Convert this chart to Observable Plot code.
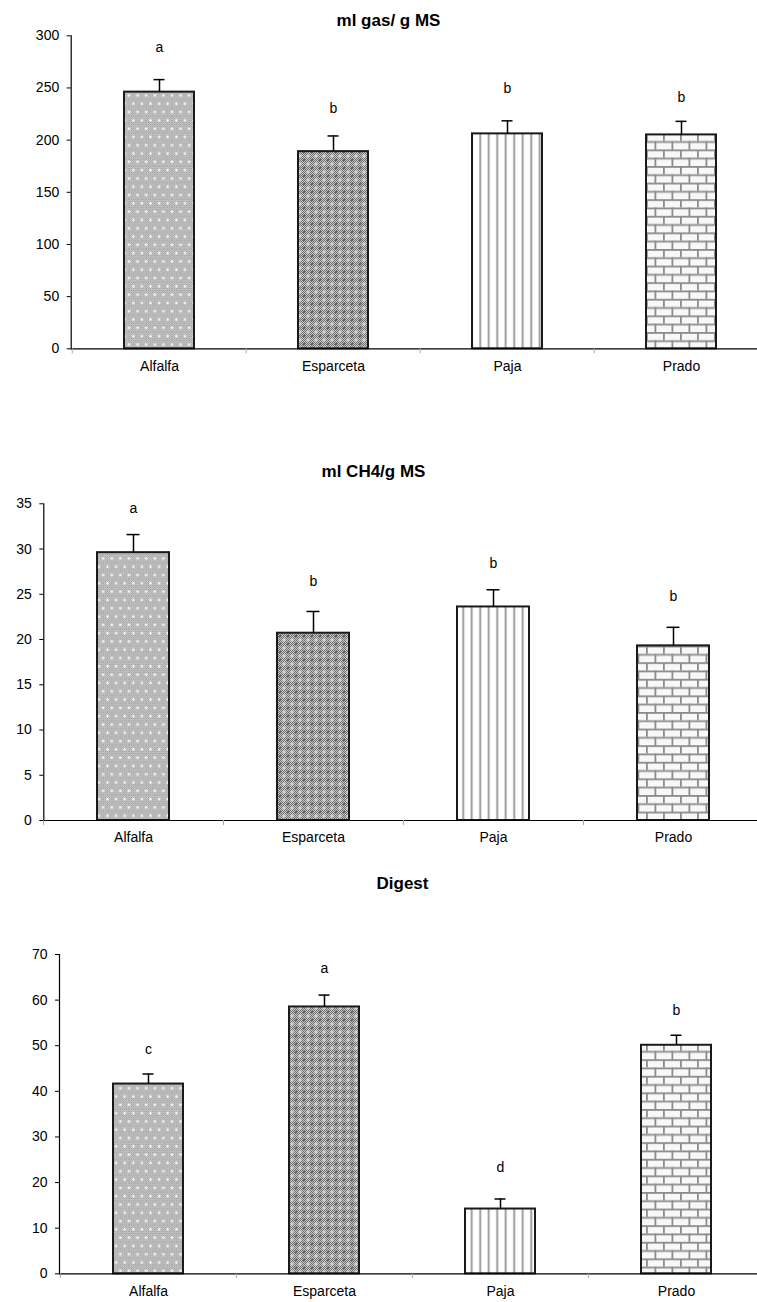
<!DOCTYPE html>
<html><head><meta charset="utf-8">
<script src="https://cdn.jsdelivr.net/npm/d3@7"></script>
<script src="https://cdn.jsdelivr.net/npm/@observablehq/plot@0.6"></script>
<style>
html,body{margin:0;padding:0;background:#fff;}
svg{display:block;}
#charts{width:757px;}
</style></head><body>
<svg width="0" height="0" style="position:absolute">
<defs>
  <pattern id="chkA" width="2" height="2" patternUnits="userSpaceOnUse">
    <rect width="2" height="2" fill="#e8e8e8"/>
    <rect width="1" height="1" fill="#8a8a8a"/>
    <rect x="1" y="1" width="1" height="1" fill="#8a8a8a"/>
  </pattern>
  <pattern id="chkE" width="2" height="2" patternUnits="userSpaceOnUse">
    <rect width="2" height="2" fill="#c8c8c8"/>
    <rect width="1" height="1" fill="#6e6e6e"/>
    <rect x="1" y="1" width="1" height="1" fill="#6e6e6e"/>
  </pattern>
  <pattern id="pat-Alfalfa" width="8.6" height="16.6" patternUnits="userSpaceOnUse">
    <rect width="8.6" height="16.6" fill="url(#chkA)"/>
    <rect x="3.8" y="2.65" width="1" height="3" fill="#fff"/>
    <rect x="2.8" y="3.65" width="3" height="1" fill="#fff"/>
    <rect x="-0.5" y="10.95" width="1" height="3" fill="#fff"/>
    <rect x="-1.5" y="11.95" width="3" height="1" fill="#fff"/>
    <rect x="8.1" y="10.95" width="1" height="3" fill="#fff"/>
    <rect x="7.1" y="11.95" width="3" height="1" fill="#fff"/>
  </pattern>
  <pattern id="pat-Esparceta" width="8" height="8" patternUnits="userSpaceOnUse">
    <rect width="8" height="8" fill="url(#chkE)"/>
    <rect x="3.5" y="2" width="1" height="4" fill="#e2e2e2"/>
    <rect x="2" y="3.5" width="4" height="1" fill="#e2e2e2"/>
    <path d="M0,-1.6L1.6,0L0,1.6L-1.6,0Z M8,-1.6L9.6,0L8,1.6L6.4,0Z M0,6.4L1.6,8L0,9.6L-1.6,8Z M8,6.4L9.6,8L8,9.6L6.4,8Z" fill="#5a5a5a"/>
  </pattern>
  <pattern id="pat-Paja" width="8.5" height="10" patternUnits="userSpaceOnUse">
    <rect width="8.5" height="10" fill="#fff"/>
    <rect x="3.3" width="1.8" height="10" fill="#939393"/>
  </pattern>
  <pattern id="pat-Prado" width="17" height="16.6" patternUnits="userSpaceOnUse">
    <rect width="17" height="16.6" fill="#f8f8f8"/>
    <rect y="0" width="17" height="1.8" fill="#8c8c8c"/>
    <rect y="8.3" width="17" height="1.8" fill="#8c8c8c"/>
    <rect x="0" y="0" width="1.8" height="8.3" fill="#8c8c8c"/>
    <rect x="8.5" y="8.3" width="1.8" height="8.3" fill="#8c8c8c"/>
  </pattern>
</defs>
</svg>
<div id="charts"></div>
<script>
// ---- data ----
const categories = ["Alfalfa", "Esparceta", "Paja", "Prado"];

const gasTitle = "ml gas/ g MS";
const gasValues = [246, 189, 206, 205];
const gasErrors = [12, 15, 12.5, 13];
const gasLetters = ["a", "b", "b", "b"];
const gasLetterY = [288.5, 230.5, 249.5, 241];
const gasTicks = [0, 50, 100, 150, 200, 250, 300];

const ch4Title = "ml CH4/g MS";
const ch4Values = [29.6, 20.7, 23.6, 19.3];
const ch4Errors = [2.0, 2.4, 1.9, 2.05];
const ch4Letters = ["a", "b", "b", "b"];
const ch4LetterY = [34.5, 26.4, 28.4, 24.8];
const ch4Ticks = [0, 5, 10, 15, 20, 25, 30, 35];

const digTitle = "Digest";
const digValues = [41.6, 58.5, 14.2, 50.1];
const digErrors = [2.2, 2.6, 2.2, 2.2];
const digLetters = ["c", "a", "d", "b"];
const digLetterY = [49.1, 67, 23.4, 57.7];
const digTicks = [0, 10, 20, 30, 40, 50, 60, 70];

// ---- layout ----
const layouts = [
  {height: 380, marginTop: 35.3, marginBottom: 31.7, marginLeft: 70.7, rangeRight: 768.7, titleX: 388, titleY: 20.5},
  {height: 480, marginTop: 123.3, marginBottom: 40, marginLeft: 43.3, rangeRight: 763.3, titleX: 373, titleY: 91},
  {height: 442, marginTop: 94, marginBottom: 28.7, marginLeft: 59, rangeRight: 764.5, titleX: 402, titleY: 23}
];

function makeChart(title, values, errors, letters, letterY, ticks, L) {
  const data = categories.map((c, i) => ({
    cat: c, v: values[i], e: errors[i], letter: letters[i], ly: letterY[i], pat: `url(#pat-${c})`
  }));
  const step = (L.rangeRight - L.marginLeft) / categories.length;
  return Plot.plot({
    width: 757,
    height: L.height,
    marginTop: L.marginTop,
    marginBottom: L.marginBottom,
    marginLeft: L.marginLeft,
    marginRight: 0,
    style: {fontFamily: "'Liberation Sans', Arial, sans-serif", fontSize: "14px", color: "#000", background: "#fff"},
    x: {type: "band", domain: categories, range: [L.marginLeft, L.rangeRight], paddingInner: 0.6, paddingOuter: 0.3},
    y: {domain: [0, ticks[ticks.length - 1]]},
    color: {type: "identity"},
    marks: [
      Plot.barY(data, {x: "cat", y: "v", fill: "pat", stroke: "#1a1a1a", strokeWidth: 2}),
      Plot.ruleX(data, {x: "cat", y1: "v", y2: d => d.v + d.e, stroke: "#000", strokeWidth: 1.5}),
      Plot.tickY(data, {x: "cat", y: d => d.v + d.e, insetLeft: 29.5, insetRight: 29.5, stroke: "#000", strokeWidth: 1.5}),
      Plot.text(data, {x: "cat", y: "ly", text: "letter", fontSize: 14}),
      Plot.ruleY([0], {stroke: "#000", strokeWidth: 1.2}),
      Plot.frame({anchor: "left", stroke: "#000", strokeWidth: 1.2}),
      Plot.ruleX(categories, {x: d => d, y1: 0, y2: 0, insetBottom: -5, dx: -step / 2, stroke: "#aaa"}),
      Plot.axisY({ticks: ticks, tickSize: 4, tickPadding: 8, label: null, fontSize: 14}),
      Plot.axisX({tickSize: 0, tickPadding: 12, label: null, fontSize: 14}),
      Plot.text([title], {frameAnchor: "top-left", dx: L.titleX - L.marginLeft, dy: L.titleY - L.marginTop,
        fontWeight: "bold", fontSize: 17, textAnchor: "middle", lineAnchor: "middle"})
    ]
  });
}

const root = document.getElementById("charts");
root.appendChild(makeChart(gasTitle, gasValues, gasErrors, gasLetters, gasLetterY, gasTicks, layouts[0]));
root.appendChild(makeChart(ch4Title, ch4Values, ch4Errors, ch4Letters, ch4LetterY, ch4Ticks, layouts[1]));
root.appendChild(makeChart(digTitle, digValues, digErrors, digLetters, digLetterY, digTicks, layouts[2]));
</script>
</body></html>
